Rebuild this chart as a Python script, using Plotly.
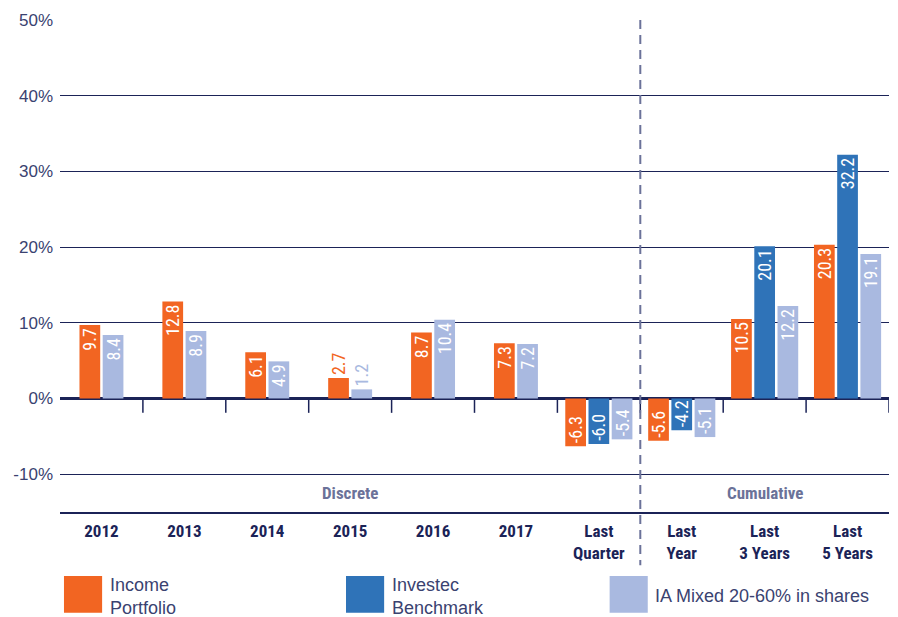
import plotly.graph_objects as go

# ---------------- data ----------------
categories = ["2012", "2013", "2014", "2015", "2016", "2017",
              "Last<br>Quarter", "Last<br>Year", "Last<br>3 Years", "Last<br>5 Years"]
series_names = ["Income<br>Portfolio", "Investec<br>Benchmark", "IA Mixed 20-60% in shares"]
income = [9.7, 12.8, 6.1, 2.7, 8.7, 7.3, -6.3, -5.6, 10.5, 20.3]
benchmark = [None, None, None, None, None, None, -6.0, -4.2, 20.1, 32.2]
ia_mixed = [8.4, 8.9, 4.9, 1.2, 10.4, 7.2, -5.4, -5.1, 12.2, 19.1]
y_ticks = [-10, 0, 10, 20, 30, 40, 50]
y_tick_text = [f"{v}%" for v in y_ticks]
section_labels = ["Discrete", "Cumulative"]
n_discrete = 7  # first seven categories are discrete periods

colors = ["#f26522", "#2f73b8", "#a9b9e0"]
series = [income, benchmark, ia_mixed]

NAVY = "#1b2357"
GREYBLUE = "#6b7299"
TXT = "#3a4270"
NARROW = "Liberation Sans Narrow, Roboto Condensed, Arial Narrow, sans-serif"
REG = "Liberation Sans, Arial, sans-serif"

BAR_W = 0.25
GAP = 0.03

# offsets per category depending on which series are present
offsets = [[None] * len(categories) for _ in series]
for i in range(len(categories)):
    present = [k for k, s in enumerate(series) if s[i] is not None]
    n = len(present)
    total = n * BAR_W + (n - 1) * GAP
    start = -total / 2
    for j, k in enumerate(present):
        offsets[k][i] = start + j * (BAR_W + GAP)

fig = go.Figure()
for k, s in enumerate(series):
    xs, ys, offs, texts, pos = [], [], [], [], []
    for i, v in enumerate(s):
        if v is None:
            continue
        xs.append(i)
        ys.append(v)
        offs.append(offsets[k][i])
        texts.append(f"{v:.1f}")
        pos.append("inside" if abs(v) >= 4 else "outside")
    fig.add_trace(go.Bar(
        x=xs, y=ys, width=BAR_W, offset=offs,
        marker=dict(color=colors[k], line=dict(width=0)),
        text=texts, textposition=pos, textangle=-90,
        insidetextanchor="end", constraintext="none",
        insidetextfont=dict(color="white", size=18, family=NARROW),
        outsidetextfont=dict(color=colors[k], size=18, family=NARROW),
        name=series_names[k].replace("<br>", " "),
        showlegend=False, cliponaxis=False,
    ))

shapes = []
# tick marks under zero line at category boundaries
for i in range(len(categories)):
    b = i + 0.5
    shapes.append(dict(type="line", xref="x", yref="y", x0=b, x1=b, y0=0, y1=-1.9,
                       line=dict(color=NAVY, width=1.5), layer="above"))
# dashed divider between discrete and cumulative
div = n_discrete - 0.5
shapes.append(dict(type="line", xref="x", yref="paper", x0=div, x1=div, y0=1, y1=-0.108,
                   line=dict(color=GREYBLUE, width=2, dash="9px,6px"), layer="above"))

# legend (drawn manually with large swatches)
leg_x = [0.0048, 0.345, 0.663]
annotations = []
for k, name in enumerate(series_names):
    x0 = leg_x[k]
    shapes.append(dict(type="rect", xref="paper", yref="paper", x0=x0, x1=x0 + 0.046,
                       y0=-0.130, y1=-0.205, fillcolor=colors[k], line=dict(width=0)))
    annotations.append(dict(xref="paper", yref="paper", x=x0 + 0.0525, y=-0.171,
                            text=name, showarrow=False, xanchor="left", yanchor="middle",
                            align="left",
                            font=dict(family=REG, size=18, color=TXT)))

# section labels
annotations.append(dict(xref="x", yref="y", x=(n_discrete - 1) / 2, y=-12.5,
                        text=section_labels[0], showarrow=False,
                        font=dict(family=NARROW, size=17, color=GREYBLUE, weight="bold")))
annotations.append(dict(xref="x", yref="y", x=(n_discrete + len(categories) - 1) / 2, y=-12.5,
                        text=section_labels[1], showarrow=False,
                        font=dict(family=NARROW, size=17, color=GREYBLUE, weight="bold")))

fig.update_layout(
    width=890, height=609,
    margin=dict(l=52, r=9, t=12, b=105, autoexpand=False),
    plot_bgcolor="white", paper_bgcolor="white",
    barmode="overlay",
    shapes=shapes, annotations=annotations,
    xaxis=dict(
        tickmode="array", tickvals=list(range(len(categories))), ticktext=categories,
        range=[-0.5, len(categories) - 0.5],
        showgrid=False, zeroline=False, automargin=False,
        showline=True, linecolor=NAVY, linewidth=1.5,
        ticks="", tickfont=dict(family=NARROW, size=17, color=NAVY, weight="bold"),
        ticklabelstandoff=3,
    ),
    yaxis=dict(
        range=[-15, 50], tickmode="array", tickvals=y_ticks, ticktext=y_tick_text,
        showgrid=True, gridcolor=NAVY, gridwidth=1,
        zeroline=True, zerolinecolor=NAVY, zerolinewidth=2.5,
        showline=False, ticks="", automargin=False,
        tickfont=dict(family=REG, size=17, color=TXT),
        ticklabelstandoff=6,
    ),
)

fig.write_html("out.html")
